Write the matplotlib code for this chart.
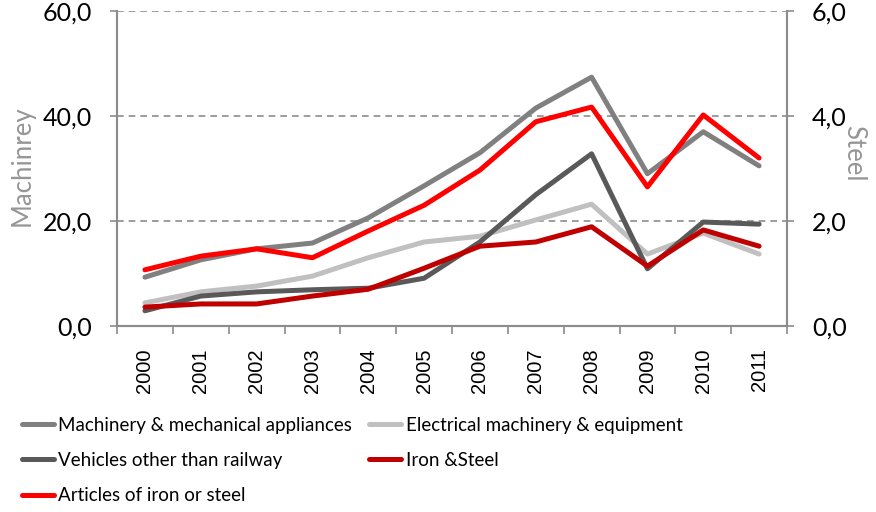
import numpy as np
import matplotlib
matplotlib.use("Agg")
import matplotlib.pyplot as plt
from matplotlib.ticker import FuncFormatter

# yearly values, left axis (Machinrey) and right axis (Steel)
years = ["2000", "2001", "2002", "2003", "2004", "2005",
         "2006", "2007", "2008", "2009", "2010", "2011"]
machinery = [9.3, 12.6, 14.7, 15.8, 20.6, 26.7, 33.0, 41.5, 47.4, 29.0, 37.0, 30.5]
electrical = [4.4, 6.5, 7.6, 9.5, 13.0, 16.0, 17.1, 20.2, 23.2, 13.7, 17.7, 13.7]
vehicles = [2.9, 5.7, 6.5, 6.9, 7.2, 9.1, 16.0, 25.0, 32.8, 10.9, 19.8, 19.4]
iron_steel = [0.36, 0.42, 0.42, 0.57, 0.70, 1.10, 1.52, 1.60, 1.89, 1.14, 1.83, 1.52]
articles = [1.07, 1.33, 1.47, 1.30, 1.81, 2.30, 2.97, 3.89, 4.17, 2.65, 4.02, 3.20]

grey = "#8c8c8c"
lw = 3.6
plt.rcParams["font.family"] = ["Lato", "DejaVu Sans"]

fig = plt.figure(figsize=(8.76, 5.12), dpi=100)
ax = fig.add_axes([0.1336, 0.3633, 0.7648, 0.6152])
ax2 = ax.twinx()

x = np.arange(len(years))
l1, = ax.plot(x, machinery, color="#808080", lw=lw, solid_capstyle="round",
              label="Machinery & mechanical appliances")
l2, = ax.plot(x, electrical, color="#c0c0c0", lw=lw, solid_capstyle="round",
              label="Electrical machinery & equipment")
l3, = ax.plot(x, vehicles, color="#595959", lw=lw, solid_capstyle="round",
              label="Vehicles other than railway")
l4, = ax2.plot(x, iron_steel, color="#c00000", lw=lw, solid_capstyle="round",
               label="Iron &Steel")
l5, = ax2.plot(x, articles, color="#ff0000", lw=lw, solid_capstyle="round",
               label="Articles of iron or steel")

ax.set_xlim(-0.5, len(years) - 0.5)
ax.set_ylim(0, 60)
ax2.set_ylim(0, 6)
ax.set_yticks([0, 20, 40, 60])
ax2.set_yticks([0, 2, 4, 6])
comma = FuncFormatter(lambda v, p: f"{v:.1f}".replace(".", ","))
ax.yaxis.set_major_formatter(comma)
ax2.yaxis.set_major_formatter(comma)

# category ticks sit between the years, labels centred on the years
ax.set_xticks(np.arange(-0.5, len(years), 1.0))
ax.set_xticklabels([])
ax.set_xticks(x, minor=True)
ax.set_xticklabels(years, minor=True, rotation=90, fontsize=14.5,
                   family="Liberation Sans")
ax.tick_params(axis="x", which="minor", length=0, pad=16)
ax.tick_params(axis="x", which="major", length=6, width=1.2, color=grey)

ax.tick_params(axis="y", length=5, width=1.2, color=grey, labelsize=18, pad=13)
ax2.tick_params(axis="y", length=5, width=1.2, color=grey, labelsize=18, pad=13)

ax.grid(axis="y", linestyle=(0, (4, 3)), color=grey, lw=1.2)
ax.set_axisbelow(True)

for a in (ax, ax2):
    a.spines["top"].set_visible(False)
    for s in ("left", "right", "bottom"):
        a.spines[s].set_color(grey)
        a.spines[s].set_linewidth(1.5)

ax.set_ylabel("Machinrey", color="#969696", fontsize=18.5)
ax.yaxis.set_label_coords(-0.123, 0.51)
ax2.set_ylabel("Steel", color="#969696", fontsize=18.5, rotation=270, va="center")
ax2.yaxis.set_label_coords(1.1, 0.55)

fig.legend(handles=[l1, l3, l5, l2, l4], ncol=2, frameon=False,
           loc="upper left", bbox_to_anchor=(0.025, 0.186),
           fontsize=13.5, handlelength=1.7, handletextpad=0.25,
           columnspacing=0.9, labelspacing=0.97, borderpad=0,
           borderaxespad=0)

fig.savefig("out.png", dpi=100)
